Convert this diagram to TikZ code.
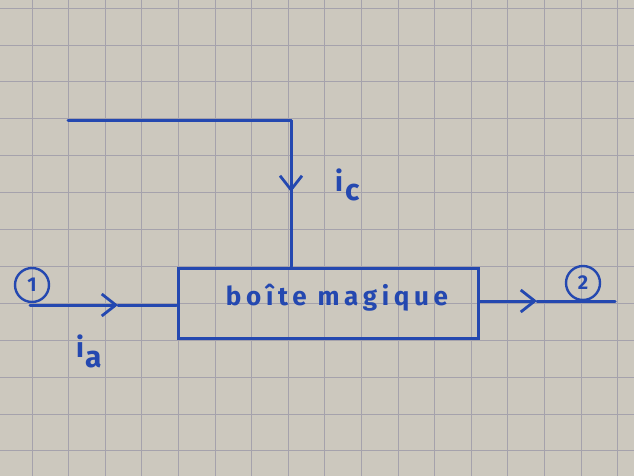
\documentclass[tikz,border=0pt]{standalone}
\usepackage{fontspec}
\setmainfont{Fira Sans}
\newfontfamily\handfont[LetterSpace=18]{Fira Sans}
\usetikzlibrary{arrows.meta}
\definecolor{paper}{RGB}{204,200,190}
\definecolor{gridc}{RGB}{165,162,172}
\definecolor{ink}{RGB}{36,72,176}
\tikzset{
  wire/.style={draw=ink, line width=3pt, line cap=round, line join=round},
  tip/.style={-{Straight Barb[length=14pt,width=22pt,line width=2.8pt]}},
  boxnode/.style={draw=ink, line width=3pt, minimum width=300pt, minimum height=70pt, inner sep=0pt},
  portc/.style={draw=ink, line width=2.4pt, circle, minimum size=34pt, inner sep=0pt, text=ink, font=\fontsize{20}{20}\selectfont\bfseries},
  lbl/.style={text=ink, font=\fontsize{28}{28}\selectfont\bfseries, inner sep=0pt}
}
\begin{document}
\begin{tikzpicture}[x=1pt,y=-1pt]
\useasboundingbox (0,0) rectangle (634,476);
\fill[paper] (0,0) rectangle (634,476);
\foreach \k in {0,...,17} {\draw[gridc, line width=0.7pt] ({-4.6+36.6*\k},0) -- ({-4.6+36.6*\k},476);}
\foreach \k in {0,...,12} {\draw[gridc, line width=0.7pt] (0,{8+36.9*\k}) -- (634,{8+36.9*\k});}
% box
\node[boxnode] (box) at (328,303) {};
\node[text=ink, inner sep=0pt] (boxtxt) at (337,298) {\handfont\bfseries\fontsize{26}{26}\selectfont boîte magique};
% top wire
\coordinate (top0) at (68,121);
\coordinate (corner) at (291,121);
\coordinate (tipc) at (291,192);
\draw[wire] (top0) -- (corner) -- (tipc);
\draw[wire, tip] (corner) -- (tipc);
\draw[wire] (tipc) -- (box.north -| corner);
\node[lbl, anchor=base west] (ic) at (335,191) {i\hspace{2pt}\raisebox{-9pt}{\fontsize{30}{30}\selectfont c}};
% left wire
\coordinate (a0) at (30,305);
\coordinate (tipa) at (118,305);
\draw[wire, tip] (a0) -- (tipa);
\draw[wire] (tipa) -- (box.west |- a0);
\node[portc] (p1) at (32,285) {1};
\node[lbl, anchor=base west] (ia) at (76,357) {i\hspace{1pt}\raisebox{-10pt}{\fontsize{30}{30}\selectfont a}};
% right wire
\coordinate (out) at (615,301);
\coordinate (tipo) at (537,301);
\draw[wire, tip] (box.east |- out) -- (tipo);
\draw[wire] (tipo) -- (out);
\node[portc] (p2) at (583,283) {2};
\end{tikzpicture}
\end{document}
